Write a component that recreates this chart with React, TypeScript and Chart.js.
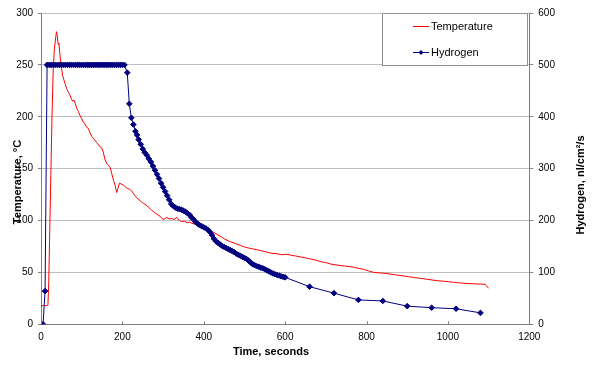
import React, { useEffect, useRef } from "react";
import { Chart, registerables } from "chart.js";

Chart.register(...registerables);

const tempTime = [0, 5, 10, 15, 17, 19, 21, 24, 27, 30, 33, 36, 38, 40, 42, 44, 46, 48, 50, 53, 56, 60, 63, 67, 71, 75, 78, 81, 84, 88, 92, 96, 100, 104, 108, 112, 116, 120, 125, 129, 133, 137, 141, 145, 149, 153, 157, 162, 166, 170, 174, 178, 182, 186, 189, 193, 198, 203, 207, 212, 218, 223, 229, 235, 241, 247, 252, 258, 264, 272, 278, 285, 293, 297, 301, 305, 309, 315, 321, 327, 334, 340, 346, 352, 359, 365, 371, 379, 387, 395, 405, 415, 428, 440, 452, 465, 478, 490, 498, 510, 522, 534, 545, 556, 567, 580, 592, 604, 615, 626, 637, 650, 662, 674, 688, 700, 715, 730, 745, 757, 768, 780, 792, 805, 817, 830, 850, 865, 880, 903, 918, 932, 947, 961, 975, 990, 1002, 1014, 1027, 1039, 1052, 1065, 1080, 1092, 1095, 1100];
const tempValue = [18, 18, 18, 18, 18.5, 40, 80, 140, 200, 245, 266, 276, 282, 278, 270, 271, 262, 254, 248, 240, 236, 231, 227, 224, 221, 217, 215, 216, 213, 208, 205, 201, 198, 195, 193, 190, 189, 185, 181, 179, 177, 175, 173, 171, 170, 166, 159, 155, 153, 151, 145, 139, 134, 127, 131, 136, 135, 134, 132.5, 131, 130, 128.5, 125, 122, 120, 118, 116.5, 115, 113, 110, 108, 106, 104, 102, 101, 102, 103, 101.5, 102, 101, 103, 100, 99, 99.5, 98, 98.5, 97.3, 96.5, 95.5, 93.5, 91.5, 90, 87.7, 85, 82, 79.6, 77.8, 76, 74.8, 73.5, 72.5, 71.6, 70.5, 69.5, 68.4, 68, 67, 67.5, 66.5, 65.8, 65, 64, 63, 62, 60.3, 59.5, 57.8, 57, 56.2, 55.8, 55, 54, 53, 51.5, 50.1, 49.6, 49, 48, 47.2, 45.9, 45, 44.3, 43.5, 42.7, 42, 41.5, 41, 40.5, 40, 39.5, 39.2, 39, 38.8, 38.5, 37, 34.7];

const h2Time = [0, 5, 10, 15, 20, 25, 30, 35, 40, 45, 50, 55, 60, 65, 70, 75, 80, 85, 90, 95, 100, 105, 110, 115, 120, 125, 130, 135, 140, 145, 150, 155, 160, 165, 170, 175, 180, 185, 190, 195, 200, 205, 212, 217, 222, 227, 232, 236, 240, 245, 250, 255, 260, 265, 270, 275, 280, 285, 290, 295, 300, 305, 310, 315, 320, 325, 330, 335, 340, 345, 350, 355, 360, 365, 370, 375, 380, 385, 390, 395, 400, 405, 410, 415, 420, 425, 430, 435, 440, 445, 450, 455, 460, 465, 470, 475, 480, 485, 490, 495, 500, 505, 510, 515, 520, 525, 530, 535, 540, 545, 550, 555, 560, 565, 570, 575, 580, 585, 590, 595, 600, 660, 720, 780, 840, 900, 960, 1020, 1080];
const h2Value = [0, 0, 64, 500, 500, 500, 500, 500, 500, 500, 500, 500, 500, 500, 500, 500, 500, 500, 500, 500, 500, 500, 500, 500, 500, 500, 500, 500, 500, 500, 500, 500, 500, 500, 500, 500, 500, 500, 500, 500, 500, 500, 485, 425, 398, 385, 372, 365, 356, 347, 338, 331, 326, 319, 313, 305, 297, 289, 281, 272, 264, 256, 248, 240, 232, 228, 225, 223, 222, 221, 219, 217, 214, 211, 206, 202, 197, 194, 191, 189, 187, 185, 182, 178, 172, 165, 160, 157, 154, 151, 149, 147, 145, 143, 141, 139, 136, 134, 132, 130, 128, 126, 123, 119, 116, 114, 112, 111, 109, 108, 106, 104, 102, 100, 98, 96.5, 95, 94, 92.5, 91.5, 90.5, 72.5, 60, 47, 45, 35, 32, 30, 22];

const xTicks = [0, 200, 400, 600, 800, 1000, 1200];
const seriesLabels = ["Temperature", "Hydrogen"];
const axisTitles = ["Time, seconds", "Temperature, °C", "Hydrogen, nl/cm²/s"];

const FONT = "'Liberation Sans', Arial, sans-serif";

const overlayPlugin = {
  id: "overlay",
  afterDraw(chart: any) {
    const ctx = chart.ctx;
    const area = chart.chartArea;
    const xs = chart.scales.x;
    ctx.save();
    ctx.strokeStyle = "#808080";
    ctx.lineWidth = 1;
    xTicks.forEach((v) => {
      const px = Math.round(xs.getPixelForValue(v)) + 0.5;
      ctx.beginPath();
      ctx.moveTo(px, area.bottom);
      ctx.lineTo(px, area.bottom - 3);
      ctx.stroke();
    });
    ctx.fillStyle = "#000";
    ctx.font = "bold 11px " + FONT;
    ctx.textAlign = "center";
    ctx.textBaseline = "middle";
    ctx.fillText(axisTitles[0], 271, 352);
    ctx.save();
    ctx.translate(18, 182);
    ctx.rotate(-Math.PI / 2);
    ctx.fillText(axisTitles[1], 0, 0);
    ctx.restore();
    ctx.save();
    ctx.translate(581, 185);
    ctx.rotate(-Math.PI / 2);
    ctx.fillText(axisTitles[2], 0, 0);
    ctx.restore();
    const lx = 382.5, ly = 13.5, lw = 145, lh = 52;
    ctx.fillStyle = "#fff";
    ctx.fillRect(lx, ly, lw, lh);
    ctx.strokeStyle = "#909090";
    ctx.strokeRect(lx, ly, lw, lh);
    const rows = [26, 52];
    chart.data.datasets.forEach((ds: any, i: number) => {
      const y = rows[i] + 0.5;
      ctx.strokeStyle = ds.borderColor;
      ctx.lineWidth = 1;
      ctx.beginPath();
      ctx.moveTo(413, y);
      ctx.lineTo(429, y);
      ctx.stroke();
      if (ds.pointRadius > 0) {
        ctx.fillStyle = ds.borderColor;
        ctx.beginPath();
        ctx.moveTo(421, y - 2.5);
        ctx.lineTo(423.5, y);
        ctx.lineTo(421, y + 2.5);
        ctx.lineTo(418.5, y);
        ctx.closePath();
        ctx.fill();
      }
      ctx.fillStyle = "#000";
      ctx.font = "11px " + FONT;
      ctx.textAlign = "left";
      ctx.textBaseline = "middle";
      ctx.fillText(ds.label, 431, y);
    });
    ctx.restore();
  },
};

export default function App() {
  const ref = useRef<HTMLCanvasElement | null>(null);
  useEffect(() => {
    document.body.style.margin = "0";
    const canvas = ref.current;
    if (!canvas) return;
    const tempData = tempTime.map((t, i) => ({ x: t, y: tempValue[i] }));
    const h2Data = h2Time.map((t, i) => ({ x: t, y: h2Value[i] }));
    const plain = (v: any) => String(v);
    const chart = new Chart(canvas, {
      type: "line",
      data: {
        datasets: [
          {
            label: seriesLabels[0],
            data: tempData,
            yAxisID: "y",
            borderColor: "#FF0000",
            backgroundColor: "#FF0000",
            borderWidth: 1,
            pointRadius: 0,
            tension: 0,
            order: 2,
          },
          {
            label: seriesLabels[1],
            data: h2Data,
            yAxisID: "y1",
            borderColor: "#000080",
            backgroundColor: "#000080",
            borderWidth: 1,
            pointRadius: 2.8,
            pointStyle: "rectRot",
            pointBorderWidth: 1,
            tension: 0,
            order: 1,
          },
        ],
      },
      options: {
        responsive: false,
        animation: false,
        events: [],
        layout: { padding: { top: 13, left: 0, right: 0, bottom: 0 } },
        plugins: { legend: { display: false }, tooltip: { enabled: false } },
        scales: {
          x: {
            type: "linear",
            min: 0,
            max: 1200,
            afterFit: (s: any) => { s.height = 40.7; },
            afterBuildTicks: (s: any) => { s.ticks = xTicks.map((v) => ({ value: v })); },
            grid: { display: true, drawOnChartArea: false, drawTicks: false },
            border: { color: "#808080" },
            ticks: { color: "#000", font: { family: FONT, size: 10 }, padding: 7, maxRotation: 0, callback: plain },
          },
          y: {
            position: "left",
            min: 0,
            max: 300,
            afterFit: (s: any) => { s.width = 41; },
            grid: { color: "#C0C0C0", tickColor: "#808080", tickLength: 3 },
            border: { color: "#808080" },
            ticks: { stepSize: 50, color: "#000", font: { family: FONT, size: 10 }, padding: 5, callback: plain },
          },
          y1: {
            position: "right",
            min: 0,
            max: 600,
            afterFit: (s: any) => { s.width = 70.7; },
            grid: { drawOnChartArea: false, tickColor: "#808080", tickLength: 4 },
            border: { color: "#808080" },
            ticks: { stepSize: 100, color: "#000", font: { family: FONT, size: 10 }, padding: 5, callback: plain },
          },
        },
      },
      plugins: [overlayPlugin],
    } as any);
    return () => chart.destroy();
  }, []);
  return (
    <div style={{ width: 600, height: 365 }}>
      <canvas ref={ref} width={600} height={365} style={{ display: "block" }} />
    </div>
  );
}
